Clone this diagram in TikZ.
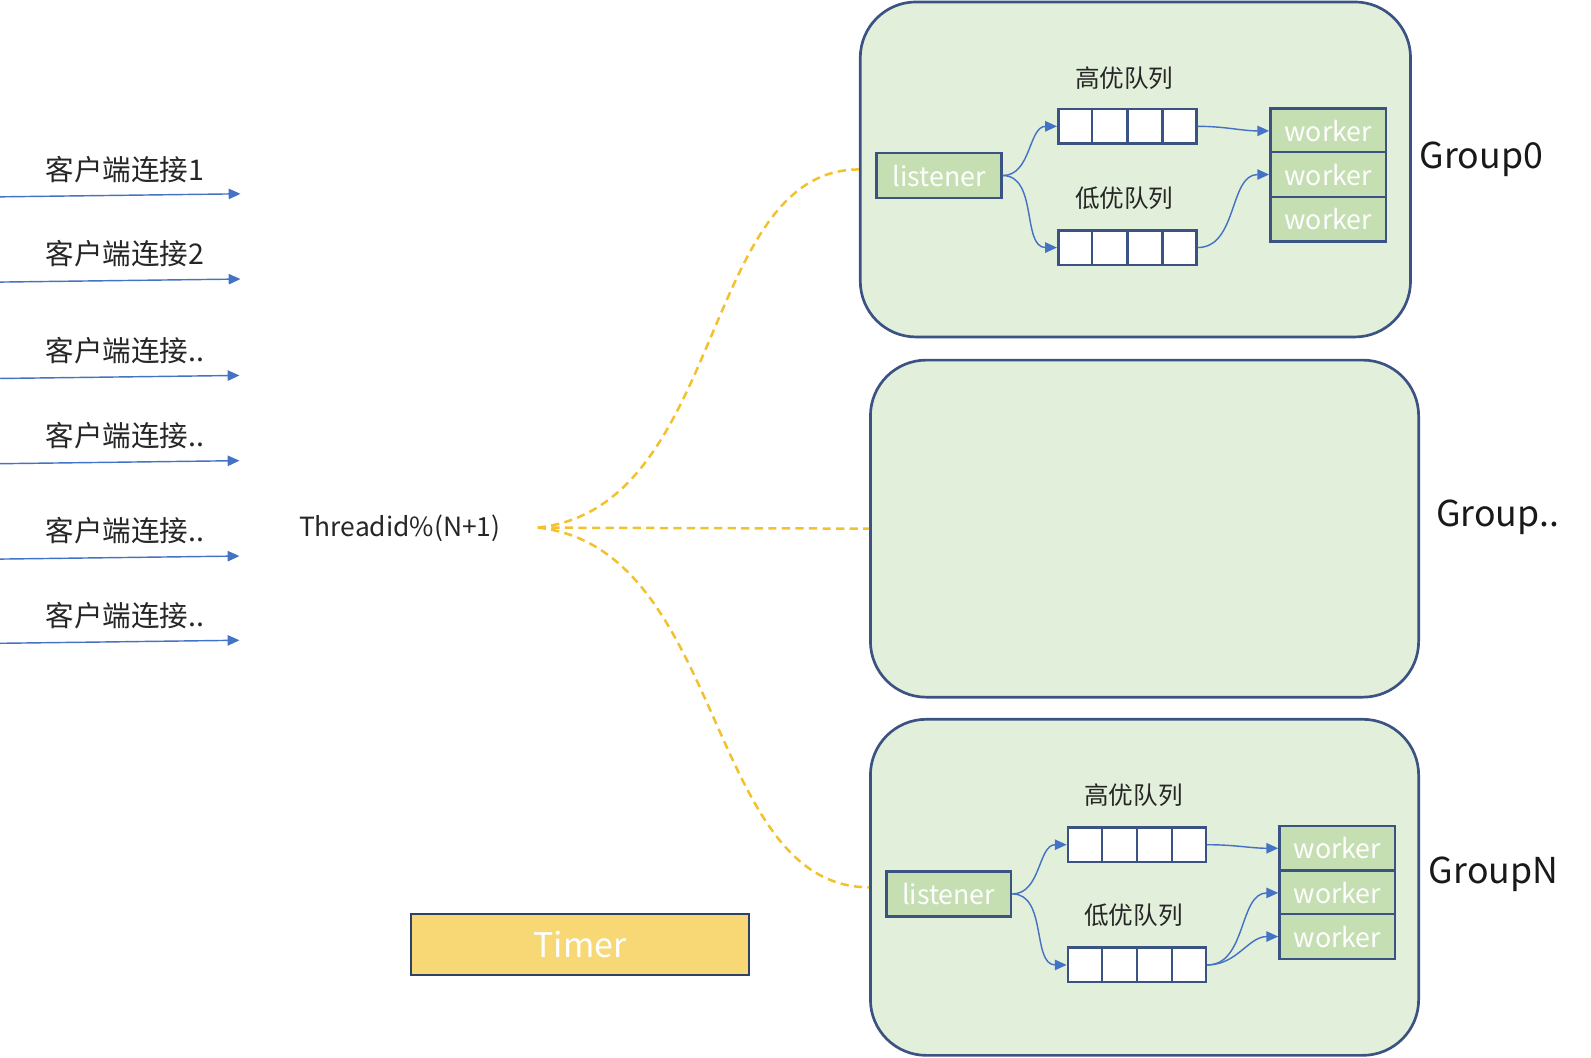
\documentclass[tikz,border=0pt]{standalone}
\usepackage{fontspec}
\setmainfont{Noto Sans CJK SC}
\usetikzlibrary{calc,arrows.meta}
\definecolor{boxline}{HTML}{3A5382}
\definecolor{groupfill}{HTML}{E2EFDA}
\definecolor{listenfill}{HTML}{C5DFB2}
\definecolor{arrowblue}{HTML}{4472C4}
\definecolor{hashyellow}{HTML}{F2C12E}
\definecolor{timerfill}{HTML}{F8D775}
\tikzset{
	groupbox/.style={draw=boxline,line width=0.75pt,fill=groupfill,rounded corners=0.55cm,minimum width=5.42cm,minimum height=3.30cm},
	greenbox/.style={draw=boxline,line width=0.7pt,fill=listenfill,text=white,inner sep=0pt,font=\fontsize{7.5}{9}\selectfont},
	listenbox/.style={greenbox,minimum width=1.23cm,minimum height=0.44cm},
	workerbox/.style={greenbox,minimum width=1.14cm,minimum height=0.44cm},
	queuebox/.style={draw=boxline,line width=0.7pt,fill=white,minimum width=1.36cm,minimum height=0.34cm,inner sep=0pt},
	qlabel/.style={font=\fontsize{6.9}{8}\selectfont,text=black!85},
	clabel/.style={font=\fontsize{8}{9.6}\selectfont,text=black!85},
	glabel/.style={font=\fontsize{10}{12}\selectfont,text=black!90},
	bluearrow/.style={-{Triangle[length=3.3pt,width=2.9pt]},arrowblue,line width=0.4pt},
	hashline/.style={hashyellow,line width=0.7pt,dash pattern=on 2.3pt off 1.5pt},
}
\newcommand{\queuecells}[1]{%
	\foreach \f in {0.25,0.5,0.75}
		\draw[boxline,line width=0.7pt] ($(#1.south west)!\f!(#1.south east)$) -- ($(#1.north west)!\f!(#1.north east)$) ;}
\begin{document}
\begin{tikzpicture}[x=0.01cm,y=-0.01cm]
	\useasboundingbox (0,0) rectangle (1568,1042) ;
	% connexions clientes
	\node[clabel] (cl1) at (123,167) {客户端连接1} ;
	\node[clabel] (cl2) at (123,250) {客户端连接2} ;
	\node[clabel] (cl3) at (123,346) {客户端连接..} ;
	\node[clabel] (cl4) at (123,429) {客户端连接..} ;
	\node[clabel] (cl5) at (123,523) {客户端连接..} ;
	\node[clabel] (cl6) at (123,607) {客户端连接..} ;
	\coordinate (c1a) at (0,194) ; \coordinate (c1b) at (237,191) ;
	\coordinate (c2a) at (0,278) ; \coordinate (c2b) at (237,275) ;
	\coordinate (c3a) at (0,373) ; \coordinate (c3b) at (236,370) ;
	\coordinate (c4a) at (0,457) ; \coordinate (c4b) at (236,454) ;
	\coordinate (c5a) at (0,551) ; \coordinate (c5b) at (236,548) ;
	\coordinate (c6a) at (0,634) ; \coordinate (c6b) at (236,631) ;
	\draw[bluearrow] (c1a) -- (c1b) ;
	\draw[bluearrow] (c2a) -- (c2b) ;
	\draw[bluearrow] (c3a) -- (c3b) ;
	\draw[bluearrow] (c4a) -- (c4b) ;
	\draw[bluearrow] (c5a) -- (c5b) ;
	\draw[bluearrow] (c6a) -- (c6b) ;
	% hash
	\node[clabel,font=\fontsize{7.4}{9}\selectfont] (hash) at (394,521) {Threadid\%(N+1)} ;
	\coordinate (hub) at (530,520) ;
	% groupes
	\node[groupbox] (g0) at (1119,167) {} ;
	\node[groupbox,minimum width=5.40cm,minimum height=3.32cm] (gm) at (1128,521) {} ;
	\node[groupbox,minimum width=5.40cm,minimum height=3.31cm] (gn) at (1128,874.5) {} ;
	\node[glabel] (g0lab) at (1460,157) {Group0} ;
	\node[glabel] (gmlab) at (1476,510) {Group..} ;
	\node[glabel] (gnlab) at (1472,862) {GroupN} ;
	\draw[hashline] (hub) .. controls (715,500) and (690,167) .. (g0.west) ;
	\draw[hashline] (hub) -- (gm.west) ;
	\draw[hashline] (hub) .. controls (715,540) and (695,874) .. (gn.west) ;
	% Group0
	\node[listenbox] (ls0) at (925.5,173) {listener} ;
	\node[queuebox] (hq0) at (1111,124.5) {} ;
	\node[queuebox] (lq0) at (1111,244) {} ;
	\queuecells{hq0}
	\queuecells{lq0}
	\node[qlabel] (hq0lab) at (1108,77) {高优队列} ;
	\node[qlabel] (lq0lab) at (1108,195) {低优队列} ;
	\node[workerbox] (w01) at (1309,129) {worker} ;
	\node[workerbox] (w02) at (1309,172) {worker} ;
	\node[workerbox] (w03) at (1309,216) {worker} ;
	\draw[bluearrow] (ls0.east) to[out=0,in=180] (hq0.west) ;
	\draw[bluearrow] (ls0.east) to[out=0,in=180] (lq0.west) ;
	\draw[bluearrow] (hq0.east) to[out=0,in=180] (w01.west) ;
	\draw[bluearrow] (lq0.east) to[out=0,in=180] (w02.west) ;
	% GroupN
	\node[listenbox] (lsn) at (935,881) {listener} ;
	\node[queuebox] (hqn) at (1120.5,832.5) {} ;
	\node[queuebox] (lqn) at (1120.5,951) {} ;
	\queuecells{hqn}
	\queuecells{lqn}
	\node[qlabel] (hqnlab) at (1117,784) {高优队列} ;
	\node[qlabel] (lqnlab) at (1117,902) {低优队列} ;
	\node[workerbox] (wn1) at (1318,836) {worker} ;
	\node[workerbox] (wn2) at (1318,880) {worker} ;
	\node[workerbox] (wn3) at (1318,923) {worker} ;
	\draw[bluearrow] (lsn.east) to[out=0,in=180] (hqn.west) ;
	\draw[bluearrow] (lsn.east) to[out=0,in=180] (lqn.west) ;
	\draw[bluearrow] (hqn.east) to[out=0,in=180] (wn1.west) ;
	\draw[bluearrow] (lqn.east) to[out=0,in=180] (wn2.west) ;
	\draw[bluearrow] (lqn.east) to[out=0,in=180] (wn3.west) ;
	% timer
	\node[draw=boxline!80!black,line width=0.7pt,fill=timerfill,text=white,minimum width=3.33cm,minimum height=0.60cm,font=\fontsize{9.5}{12}\selectfont] (timer) at (571.5,931) {Timer} ;
\end{tikzpicture}
\end{document}
